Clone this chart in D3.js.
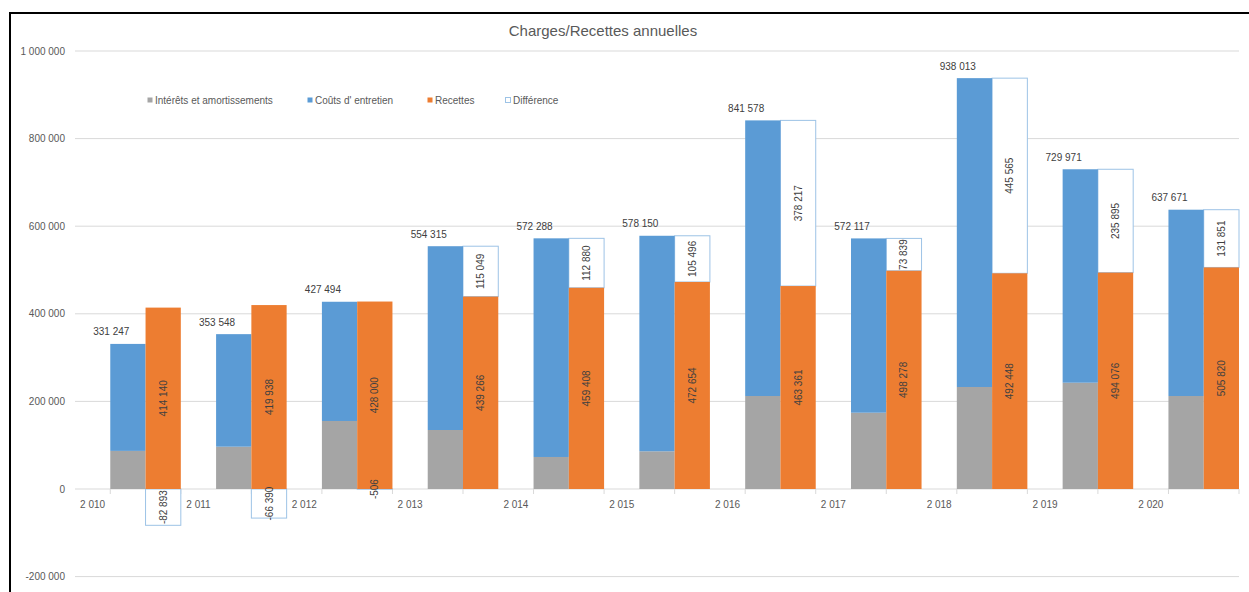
<!DOCTYPE html>
<html><head><meta charset="utf-8">
<script src="https://cdn.jsdelivr.net/npm/d3@7"></script>
<style>
body{margin:0;background:#fff;}
text{font-family:"Liberation Sans",Arial,sans-serif;}
</style></head>
<body><svg id="c" width="1249" height="592"></svg>
<script>
const years = [2010,2011,2012,2013,2014,2015,2016,2017,2018,2019,2020];
const interets = [87000,96600,155300,134700,73100,86100,212300,174200,232900,242700,212300];
const charges = [331247,353548,427494,554315,572288,578150,841578,572117,938013,729971,637671];
const recettes = [414140,419938,428000,439266,459408,472654,463361,498278,492448,494076,505820];
const difference = [-82893,-66390,-506,115049,112880,105496,378217,73839,445565,235895,131851];
const yTicks = [-200000,0,200000,400000,600000,800000,1000000];
const legendLabels = ["Intérêts et amortissements","Coûts d' entretien","Recettes","Différence"];
const title = "Charges/Recettes annuelles";

const colors = {gray:"#a5a5a5", blue:"#5b9bd5", orange:"#ed7d31", diffStroke:"#9dc3e6"};
const fmt = v => d3.format(",")(v).replace(/,/g," ").replace(/\u2212/g,"-");

const svg = d3.select("#c");
// frame
svg.append("line").attr("x1",10).attr("x2",1249).attr("y1",13).attr("y2",13).attr("stroke","#000").attr("stroke-width",2);
svg.append("line").attr("x1",10).attr("x2",10).attr("y1",12).attr("y2",592).attr("stroke","#000").attr("stroke-width",2);

const x = d3.scaleBand().domain(years).range([75,1239]).padding(0);
const slot = x.bandwidth()/3;
const y = d3.scaleLinear().domain([-200000,1000000]).range([576.6,51]);

// gridlines
svg.append("g").selectAll("line").data(yTicks).join("line")
  .attr("x1",75).attr("x2",1239).attr("y1",d=>y(d)).attr("y2",d=>y(d))
  .attr("stroke","#d9d9d9").attr("stroke-width",1);

// y axis labels
svg.append("g").selectAll("text").data(yTicks).join("text")
  .attr("x",65).attr("y",d=>y(d)).attr("dy","0.35em").attr("text-anchor","end")
  .attr("font-size",10).attr("fill","#595959").text(d=>fmt(d));

// x tick marks
const tickPos = d3.range(0,17).map(k=>75+slot*(2*k+1));
svg.append("g").selectAll("line").data(tickPos).join("line")
  .attr("x1",d=>d).attr("x2",d=>d).attr("y1",y(0)).attr("y2",y(0)+5)
  .attr("stroke","#d9d9d9");

// x labels
svg.append("g").selectAll("text").data(years).join("text")
  .attr("x",d=>x(d)+slot/2).attr("y",y(0)+15).attr("dy","0.35em").attr("text-anchor","middle")
  .attr("font-size",10).attr("fill","#595959").text(d=>{const s=String(d);return s[0]+" "+s.slice(1);});

const data = years.map((yr,i)=>({yr,int:interets[i],ch:charges[i],rec:recettes[i],diff:difference[i]}));
const g = svg.append("g");
// difference (drawn first, orange overlays)
const diffY0 = d=> d.diff>=0 ? d.rec : 0;
const diffY1 = d=> d.diff>=0 ? d.rec+d.diff : d.diff;
g.selectAll(".diff").data(data).join("rect")
  .attr("x",d=>x(d.yr)+2*slot).attr("width",slot)
  .attr("y",d=>Math.min(y(diffY0(d)),y(diffY1(d))))
  .attr("height",d=>Math.abs(y(diffY0(d))-y(diffY1(d))))
  .attr("fill","#fff").attr("stroke",colors.diffStroke).attr("stroke-width",1);
// gray
g.selectAll(".gray").data(data).join("rect")
  .attr("x",d=>x(d.yr)+slot).attr("width",slot)
  .attr("y",d=>y(d.int)).attr("height",d=>y(0)-y(d.int)).attr("fill",colors.gray);
// blue
g.selectAll(".blue").data(data).join("rect")
  .attr("x",d=>x(d.yr)+slot).attr("width",slot)
  .attr("y",d=>y(d.ch)).attr("height",d=>y(d.int)-y(d.ch)).attr("fill",colors.blue);
// orange
g.selectAll(".orange").data(data).join("rect")
  .attr("x",d=>x(d.yr)+2*slot).attr("width",slot)
  .attr("y",d=>y(d.rec)).attr("height",d=>y(0)-y(d.rec)).attr("fill",colors.orange);

// labels
const lab = svg.append("g").attr("font-size",10).attr("fill","#404040");
lab.selectAll(".lc").data(data).join("text")
  .attr("x",d=>x(d.yr)+slot+1).attr("y",d=>y(d.ch)-12).attr("dy","0.35em")
  .attr("text-anchor","middle").text(d=>fmt(d.ch));
lab.selectAll(".lr").data(data).join("text")
  .attr("transform",d=>`translate(${x(d.yr)+2.5*slot},${(y(0)+y(d.rec))/2}) rotate(-90)`)
  .attr("dy","0.35em").attr("text-anchor","middle").text(d=>fmt(d.rec));
lab.selectAll(".ld").data(data).join("text")
  .attr("transform",d=>`translate(${x(d.yr)+2.5*slot},${(y(diffY0(d))+y(diffY1(d)))/2}) rotate(-90)`)
  .attr("dy","0.35em").attr("text-anchor","middle").text(d=>fmt(d.diff));

// title
svg.append("text").attr("x",603).attr("y",31).attr("dy","0.35em").attr("text-anchor","middle")
  .attr("font-size",15).attr("fill","#595959").text(title);

// legend
const legX = [147,307,427,505];
const lg = svg.append("g").selectAll("g").data(legendLabels).join("g")
  .attr("transform",(d,i)=>`translate(${legX[i]},100)`);
lg.append("rect").attr("x",0.5).attr("y",-2.5).attr("width",5).attr("height",5)
  .attr("fill",(d,i)=>[colors.gray,colors.blue,colors.orange,"#fff"][i])
  .attr("stroke",(d,i)=>i===3?colors.diffStroke:"none");
lg.append("text").attr("x",8).attr("y",0).attr("dy","0.35em").attr("font-size",10).attr("fill","#595959").text(d=>d);
</script></body></html>
